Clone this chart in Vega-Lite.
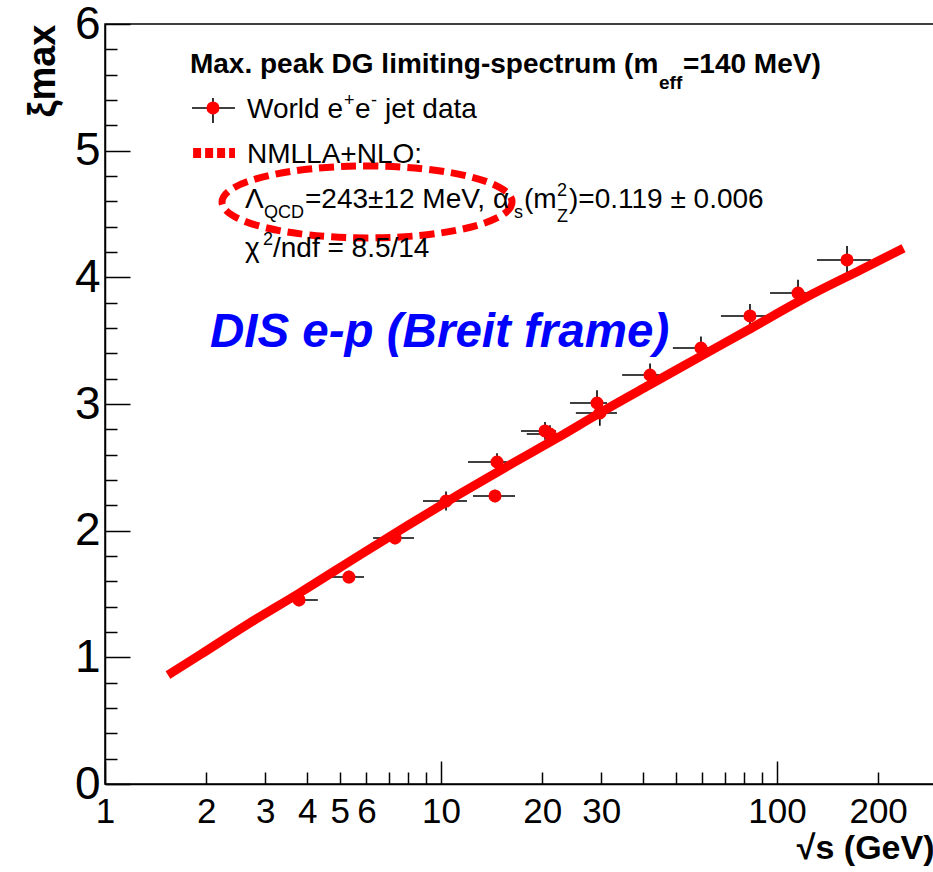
{
  "$schema": "https://vega.github.io/schema/vega-lite/v6.json",
  "width": 829,
  "height": 760,
  "autosize": {"type": "none"},
  "padding": {"left": 105, "top": 24, "right": 0, "bottom": 88},
  "background": "white",
  "config": {
    "view": {"stroke": "black", "strokeWidth": 1.5},
    "font": "Liberation Sans",
    "axis": {"grid": false, "domainColor": "black", "domainWidth": 1.5, "tickColor": "black", "tickWidth": 1.5, "labelColor": "black", "titleColor": "black", "labelFont": "Liberation Sans", "titleFont": "Liberation Sans", "labelOverlap": false, "labelFlush": false}
  },
  "datasets": {
    "pts": [
      {"x": 3.78, "xi": 1.453, "xlo": 3.36, "xhi": 4.30, "ylo": 1.403, "yhi": 1.503},
      {"x": 5.32, "xi": 1.634, "xlo": 4.67, "xhi": 5.90, "ylo": 1.584, "yhi": 1.684},
      {"x": 7.30, "xi": 1.942, "xlo": 6.28, "xhi": 8.31, "ylo": 1.892, "yhi": 1.992},
      {"x": 10.35, "xi": 2.234, "xlo": 8.84, "xhi": 11.95, "ylo": 2.159, "yhi": 2.309},
      {"x": 14.68, "xi": 2.542, "xlo": 12.03, "xhi": 15.72, "ylo": 2.472, "yhi": 2.612},
      {"x": 14.48, "xi": 2.274, "xlo": 12.45, "xhi": 16.61, "ylo": 2.224, "yhi": 2.324},
      {"x": 20.4, "xi": 2.787, "xlo": 17.3, "xhi": 22.0, "ylo": 2.717, "yhi": 2.857},
      {"x": 21.1, "xi": 2.763, "xlo": 18.0, "xhi": 23.3, "ylo": 2.693, "yhi": 2.833},
      {"x": 29.13, "xi": 3.008, "xlo": 24.2, "xhi": 31.2, "ylo": 2.908, "yhi": 3.108},
      {"x": 29.7, "xi": 2.929, "xlo": 25.2, "xhi": 33.4, "ylo": 2.829, "yhi": 3.029},
      {"x": 41.9, "xi": 3.229, "xlo": 34.6, "xhi": 44.6, "ylo": 3.139, "yhi": 3.319},
      {"x": 59.4, "xi": 3.442, "xlo": 49.0, "xhi": 64.1, "ylo": 3.352, "yhi": 3.532},
      {"x": 83.1, "xi": 3.695, "xlo": 68.1, "xhi": 95.3, "ylo": 3.600, "yhi": 3.790},
      {"x": 115.5, "xi": 3.876, "xlo": 95.3, "xhi": 122.9, "ylo": 3.771, "yhi": 3.981},
      {"x": 161.6, "xi": 4.137, "xlo": 131.5, "xhi": 190.5, "ylo": 4.027, "yhi": 4.247}
    ],
    "fit": [
      {"x": 1.540, "xi": 0.86},
      {"x": 1.919, "xi": 1.02},
      {"x": 2.692, "xi": 1.27},
      {"x": 3.802, "xi": 1.51},
      {"x": 5.754, "xi": 1.81},
      {"x": 7.943, "xi": 2.04},
      {"x": 11.38, "xi": 2.29},
      {"x": 16.03, "xi": 2.52},
      {"x": 22.13, "xi": 2.73},
      {"x": 29.72, "xi": 2.93},
      {"x": 41.69, "xi": 3.15},
      {"x": 57.81, "xi": 3.36},
      {"x": 81.47, "xi": 3.58},
      {"x": 127.9, "xi": 3.87},
      {"x": 177.8, "xi": 4.06},
      {"x": 238.0, "xi": 4.23}
    ],
    "ellipse": [{"x": 6.024, "xi": 4.595}],
    "keyLine": [{"xlo": 1.829, "xhi": 2.437, "xi": 4.981}],
    "keyPoint": [{"x": 2.096, "xi": 5.337, "xlo": 1.815, "xhi": 2.437, "ylo": 5.218, "yhi": 5.416}],
    "header": [
      {"t": "Max. peak DG limiting-spectrum (m", "x": 1.790, "xi": 5.613},
      {"t": "=140 MeV)", "x": 52.52, "xi": 5.613}
    ],
    "headerSub": [
      {"t": "eff", "x": 44.55, "xi": 5.487}
    ],
    "body": [
      {"t": "World e", "x": 2.646, "xi": 5.258},
      {"t": "e", "x": 5.547, "xi": 5.258},
      {"t": "jet data", "x": 6.813, "xi": 5.258},
      {"t": "NMLLA+NLO:", "x": 2.646, "xi": 4.903},
      {"t": "Λ", "x": 2.610, "xi": 4.547},
      {"t": "=243±12 MeV, α", "x": 3.938, "xi": 4.547},
      {"t": "(m", "x": 17.66, "xi": 4.547},
      {"t": ")=0.119 ± 0.006", "x": 24.04, "xi": 4.547},
      {"t": "χ", "x": 2.610, "xi": 4.161},
      {"t": "/ndf = 8.5/14", "x": 3.162, "xi": 4.161}
    ],
    "bodySmall": [
      {"t": "+", "x": 5.144, "xi": 5.353},
      {"t": "-", "x": 6.189, "xi": 5.353},
      {"t": "QCD", "x": 2.973, "xi": 4.468},
      {"t": "s", "x": 16.50, "xi": 4.468},
      {"t": "2", "x": 22.14, "xi": 4.642},
      {"t": "Z", "x": 22.14, "xi": 4.437},
      {"t": "2", "x": 2.953, "xi": 4.255}
    ],
    "tag": [{"t": "DIS e-p (Breit frame)", "x": 2.053, "xi": 3.450}]
  },
  "layer": [
    {
      "description": "horizontal error bars; carries the minor-tick axes",
      "data": {"name": "pts"},
      "mark": {"type": "rule", "color": "black", "strokeWidth": 1.6},
      "encoding": {
        "x": {"field": "xlo", "type": "quantitative", "scale": {"type": "log", "domain": [1, 293.3], "nice": false},
          "axis": {"orient": "bottom", "values": [2, 3, 4, 5, 6, 7, 8, 9, 20, 30, 40, 50, 60, 70, 80, 90, 200], "tickSize": -12, "labelPadding": 22, "format": "d", "labelExpr": "indexof([2, 3, 4, 5, 6, 20, 30, 200], datum.value) >= 0 ? datum.label : ''", "labelFontSize": 35, "labelOverlap": false, "labelFlush": false, "domain": false, "title": null}},
        "x2": {"field": "xhi"},
        "y": {"field": "xi", "type": "quantitative", "scale": {"domain": [0, 6], "nice": false, "zero": false},
          "axis": {"orient": "left", "values": [0.2, 0.4, 0.6, 0.8, 1.2, 1.4, 1.6, 1.8, 2.2, 2.4, 2.6, 2.8, 3.2, 3.4, 3.6, 3.8, 4.2, 4.4, 4.6, 4.8, 5.2, 5.4, 5.6, 5.8], "tickSize": -12, "labels": false, "domain": false, "title": null}}
      }
    },
    {
      "data": {"name": "pts"},
      "mark": {"type": "rule", "color": "black", "strokeWidth": 1.6},
      "encoding": {
        "x": {"field": "x", "type": "quantitative", "scale": {"type": "log", "domain": [1, 293.3], "nice": false}, "axis": null},
        "y": {"field": "ylo", "type": "quantitative", "scale": {"domain": [0, 6], "nice": false, "zero": false}, "axis": null},
        "y2": {"field": "yhi"}
      }
    },
    {
      "data": {"name": "pts"},
      "mark": {"type": "point", "filled": true, "color": "#ff0000", "size": 170, "opacity": 1},
      "encoding": {
        "x": {"field": "x", "type": "quantitative", "scale": {"type": "log", "domain": [1, 293.3], "nice": false}, "axis": null},
        "y": {"field": "xi", "type": "quantitative", "scale": {"domain": [0, 6], "nice": false, "zero": false}, "axis": null}
      }
    },
    {
      "description": "NMLLA+NLO curve; carries the major axes",
      "data": {"name": "fit"},
      "mark": {"type": "line", "color": "#ff0000", "strokeWidth": 9, "interpolate": "monotone"},
      "encoding": {
        "x": {"field": "x", "type": "quantitative", "scale": {"type": "log", "domain": [1, 293.3], "nice": false},
          "axis": {"orient": "bottom", "values": [1, 10, 100], "tickSize": -23, "labelPadding": 33, "format": "d", "labelFontSize": 35, "labelOverlap": false, "labelFlush": false,
            "title": "√s (GeV)", "titleAnchor": "end", "titleFontSize": 34, "titleFontWeight": "bold", "titlePadding": 2}},
        "y": {"field": "xi", "type": "quantitative", "scale": {"domain": [0, 6], "nice": false, "zero": false},
          "axis": {"orient": "left", "values": [0, 1, 2, 3, 4, 5, 6], "tickSize": -25, "labelPadding": 30, "format": "d", "labelFontSize": 46, "labelOverlap": false, "labelFlush": false,
            "title": "ξmax", "titleAnchor": "end", "titleFontSize": 38, "titleFontWeight": "bold", "titlePadding": 12}}
      }
    },
    {
      "description": "dashed ellipse around the fitted Lambda value",
      "data": {"name": "ellipse"},
      "mark": {"type": "point", "filled": false, "stroke": "#ff0000", "strokeWidth": 7, "strokeDash": [15, 7], "size": 84100, "opacity": 1,
        "shape": "M 1 0 C 1 0.137 0.552 0.248 0 0.248 C -0.552 0.248 -1 0.137 -1 0 C -1 -0.137 -0.552 -0.248 0 -0.248 C 0.552 -0.248 1 -0.137 1 0 Z"},
      "encoding": {
        "x": {"field": "x", "type": "quantitative", "scale": {"type": "log", "domain": [1, 293.3], "nice": false}, "axis": null},
        "y": {"field": "xi", "type": "quantitative", "scale": {"domain": [0, 6], "nice": false, "zero": false}, "axis": null}
      }
    },
    {
      "data": {"name": "keyLine"},
      "mark": {"type": "rule", "color": "#ff0000", "strokeWidth": 10, "strokeDash": [8, 4]},
      "encoding": {
        "x": {"field": "xlo", "type": "quantitative", "scale": {"type": "log", "domain": [1, 293.3], "nice": false}, "axis": null},
        "x2": {"field": "xhi"},
        "y": {"field": "xi", "type": "quantitative", "scale": {"domain": [0, 6], "nice": false, "zero": false}, "axis": null}
      }
    },
    {
      "data": {"name": "keyPoint"},
      "mark": {"type": "rule", "color": "black", "strokeWidth": 1.6},
      "encoding": {
        "x": {"field": "xlo", "type": "quantitative", "scale": {"type": "log", "domain": [1, 293.3], "nice": false}, "axis": null},
        "x2": {"field": "xhi"},
        "y": {"field": "xi", "type": "quantitative", "scale": {"domain": [0, 6], "nice": false, "zero": false}, "axis": null}
      }
    },
    {
      "data": {"name": "keyPoint"},
      "mark": {"type": "rule", "color": "black", "strokeWidth": 1.6},
      "encoding": {
        "x": {"field": "x", "type": "quantitative", "scale": {"type": "log", "domain": [1, 293.3], "nice": false}, "axis": null},
        "y": {"field": "ylo", "type": "quantitative", "scale": {"domain": [0, 6], "nice": false, "zero": false}, "axis": null},
        "y2": {"field": "yhi"}
      }
    },
    {
      "data": {"name": "keyPoint"},
      "mark": {"type": "point", "filled": true, "color": "#ff0000", "size": 170, "opacity": 1},
      "encoding": {
        "x": {"field": "x", "type": "quantitative", "scale": {"type": "log", "domain": [1, 293.3], "nice": false}, "axis": null},
        "y": {"field": "xi", "type": "quantitative", "scale": {"domain": [0, 6], "nice": false, "zero": false}, "axis": null}
      }
    },
    {
      "data": {"name": "header"},
      "mark": {"type": "text", "align": "left", "baseline": "alphabetic", "font": "Liberation Sans", "fontSize": 28, "fontWeight": "bold", "color": "black"},
      "encoding": {
        "x": {"field": "x", "type": "quantitative", "scale": {"type": "log", "domain": [1, 293.3], "nice": false}, "axis": null},
        "y": {"field": "xi", "type": "quantitative", "scale": {"domain": [0, 6], "nice": false, "zero": false}, "axis": null},
        "text": {"field": "t"}
      }
    },
    {
      "data": {"name": "headerSub"},
      "mark": {"type": "text", "align": "left", "baseline": "alphabetic", "font": "Liberation Sans", "fontSize": 19, "fontWeight": "bold", "color": "black"},
      "encoding": {
        "x": {"field": "x", "type": "quantitative", "scale": {"type": "log", "domain": [1, 293.3], "nice": false}, "axis": null},
        "y": {"field": "xi", "type": "quantitative", "scale": {"domain": [0, 6], "nice": false, "zero": false}, "axis": null},
        "text": {"field": "t"}
      }
    },
    {
      "data": {"name": "body"},
      "mark": {"type": "text", "align": "left", "baseline": "alphabetic", "font": "Liberation Sans", "fontSize": 28, "color": "black"},
      "encoding": {
        "x": {"field": "x", "type": "quantitative", "scale": {"type": "log", "domain": [1, 293.3], "nice": false}, "axis": null},
        "y": {"field": "xi", "type": "quantitative", "scale": {"domain": [0, 6], "nice": false, "zero": false}, "axis": null},
        "text": {"field": "t"}
      }
    },
    {
      "data": {"name": "bodySmall"},
      "mark": {"type": "text", "align": "left", "baseline": "alphabetic", "font": "Liberation Sans", "fontSize": 18, "color": "black"},
      "encoding": {
        "x": {"field": "x", "type": "quantitative", "scale": {"type": "log", "domain": [1, 293.3], "nice": false}, "axis": null},
        "y": {"field": "xi", "type": "quantitative", "scale": {"domain": [0, 6], "nice": false, "zero": false}, "axis": null},
        "text": {"field": "t"}
      }
    },
    {
      "data": {"name": "tag"},
      "mark": {"type": "text", "align": "left", "baseline": "alphabetic", "font": "Liberation Sans", "fontSize": 47.5, "fontWeight": "bold", "fontStyle": "italic", "color": "#0000ff"},
      "encoding": {
        "x": {"field": "x", "type": "quantitative", "scale": {"type": "log", "domain": [1, 293.3], "nice": false}, "axis": null},
        "y": {"field": "xi", "type": "quantitative", "scale": {"domain": [0, 6], "nice": false, "zero": false}, "axis": null},
        "text": {"field": "t"}
      }
    }
  ],
  "resolve": {"axis": {"x": "independent", "y": "independent"}}
}
